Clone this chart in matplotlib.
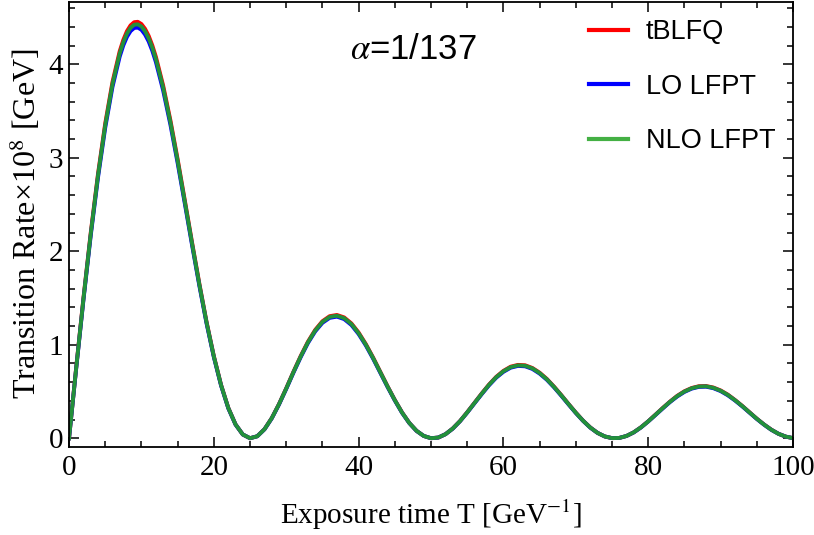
import numpy as np
import matplotlib
matplotlib.use("Agg")
import matplotlib.pyplot as plt
from matplotlib.ticker import MultipleLocator

# exposure time T (GeV^-1); a few half steps round the first peak
t = [0, 1, 2, 3, 4, 5, 6, 7, 7.5, 8, 8.5, 9, 9.5, 10, 10.5, 11, 11.5] + list(range(12, 101))

# transition rate (x10^8 GeV)
tblfq = [0, 0.765, 1.506, 2.200, 2.827, 3.368, 3.810, 4.140, 4.261, 4.354, 4.416,
         4.450, 4.454, 4.430, 4.379, 4.304, 4.203,
         4.079, 3.773, 3.402, 2.986, 2.542, 2.092, 1.655, 1.244, 0.881,
         0.572, 0.326, 0.149, 0.041, 0.001, 0.022, 0.098, 0.216, 0.366, 0.535,
         0.712, 0.880, 1.033, 1.159, 1.252, 1.306, 1.319, 1.293, 1.229, 1.131,
         1.007, 0.864, 0.710, 0.556, 0.410, 0.277, 0.165, 0.080, 0.025, 0.001,
         0.008, 0.044, 0.105, 0.184, 0.279, 0.379, 0.479, 0.574, 0.657, 0.721,
         0.766, 0.785, 0.781, 0.752, 0.702, 0.635, 0.552, 0.462, 0.367, 0.275,
         0.189, 0.116, 0.058, 0.020, 0.002, 0.004, 0.025, 0.064, 0.118, 0.182,
         0.253, 0.324, 0.392, 0.454, 0.503, 0.538, 0.557, 0.559, 0.543, 0.512,
         0.467, 0.409, 0.346, 0.278, 0.210, 0.148, 0.093, 0.048, 0.018, 0.002]

lo_lfpt = [0, 0.754, 1.485, 2.169, 2.788, 3.321, 3.757, 4.082, 4.202, 4.293, 4.355,
           4.388, 4.392, 4.369, 4.318, 4.244, 4.145,
           4.023, 3.720, 3.355, 2.944, 2.507, 2.063, 1.632, 1.227, 0.869,
           0.564, 0.321, 0.147, 0.041, 0.001, 0.022, 0.096, 0.213, 0.361, 0.528,
           0.702, 0.868, 1.019, 1.143, 1.235, 1.288, 1.301, 1.275, 1.212, 1.115,
           0.993, 0.852, 0.700, 0.549, 0.405, 0.273, 0.163, 0.079, 0.025, 0.001,
           0.008, 0.044, 0.103, 0.182, 0.275, 0.374, 0.472, 0.566, 0.648, 0.711,
           0.755, 0.774, 0.770, 0.742, 0.692, 0.626, 0.545, 0.455, 0.362, 0.271,
           0.187, 0.114, 0.058, 0.020, 0.002, 0.004, 0.025, 0.063, 0.116, 0.180,
           0.249, 0.319, 0.387, 0.447, 0.496, 0.531, 0.550, 0.552, 0.536, 0.505,
           0.460, 0.404, 0.341, 0.274, 0.207, 0.146, 0.091, 0.048, 0.018, 0.002]

nlo_lfpt = [0, 0.760, 1.497, 2.187, 2.810, 3.348, 3.787, 4.115, 4.236, 4.328, 4.390,
            4.423, 4.427, 4.404, 4.353, 4.278, 4.178,
            4.055, 3.750, 3.382, 2.968, 2.527, 2.080, 1.645, 1.237, 0.876,
            0.569, 0.324, 0.148, 0.041, 0.001, 0.022, 0.097, 0.215, 0.364, 0.532,
            0.708, 0.875, 1.027, 1.152, 1.245, 1.298, 1.311, 1.285, 1.222, 1.124,
            1.001, 0.859, 0.706, 0.553, 0.408, 0.275, 0.164, 0.080, 0.025, 0.001,
            0.008, 0.044, 0.104, 0.183, 0.277, 0.377, 0.476, 0.571, 0.653, 0.717,
            0.761, 0.780, 0.776, 0.748, 0.698, 0.631, 0.549, 0.459, 0.365, 0.273,
            0.188, 0.115, 0.058, 0.020, 0.002, 0.004, 0.025, 0.064, 0.117, 0.181,
            0.251, 0.322, 0.390, 0.451, 0.500, 0.535, 0.554, 0.556, 0.540, 0.509,
            0.464, 0.407, 0.344, 0.276, 0.209, 0.147, 0.092, 0.048, 0.018, 0.002]

series = [("tBLFQ", tblfq, "#ff0000", "#ff0000"),
          ("LO LFPT", lo_lfpt, "#0000ff", "#0000ff"),
          ("NLO LFPT", nlo_lfpt, "#23903a", "#44b044")]

plt.rcParams["mathtext.fontset"] = "stix"
serif = "Liberation Serif"
sans = "Liberation Sans"

fig = plt.figure(figsize=(8.14, 5.35), dpi=100)
ax = fig.add_axes([0.0848, 0.165, 0.8894, 0.832])

for label, vals, col, _ in series:
    ax.plot(t, vals, color=col, lw=2.8, label=label)

ax.set_xlim(0, 100)
ax.set_ylim(-0.09, 4.67)

ax.xaxis.set_major_locator(MultipleLocator(20))
ax.xaxis.set_minor_locator(MultipleLocator(5))
ax.yaxis.set_major_locator(MultipleLocator(1))
ax.yaxis.set_minor_locator(MultipleLocator(0.2))
ax.tick_params(which="both", direction="in", top=True, right=True, width=1.1)
ax.tick_params(which="major", length=7, labelsize=21, pad=6)
ax.tick_params(which="minor", length=4)
ax.tick_params(axis="y", which="major", pad=4)
for lab in ax.get_xticklabels() + ax.get_yticklabels():
    lab.set_family(serif)
for sp in ax.spines.values():
    sp.set_linewidth(1.3)

ax.set_xlabel("Exposure time T [GeV$^{-1}$]", family=serif, fontsize=21, labelpad=12)
ax.set_ylabel("Transition Rate×10$^{8}$ [GeV]", family=serif, fontsize=23, labelpad=4)

ax.text(0.388, 0.893, r"$\alpha$=1/137", transform=ax.transAxes, family=sans,
        fontsize=25, va="center", ha="left")

leg = ax.legend(loc="upper right", frameon=False, prop={"family": sans, "size": 19.5},
                handlelength=1.45, handletextpad=0.65, labelspacing=1.05,
                borderaxespad=0.25)
for h, (_, _, _, lc) in zip(leg.get_lines(), series):
    h.set_linewidth(3)
    h.set_color(lc)

fig.savefig("out.png", dpi=100)
